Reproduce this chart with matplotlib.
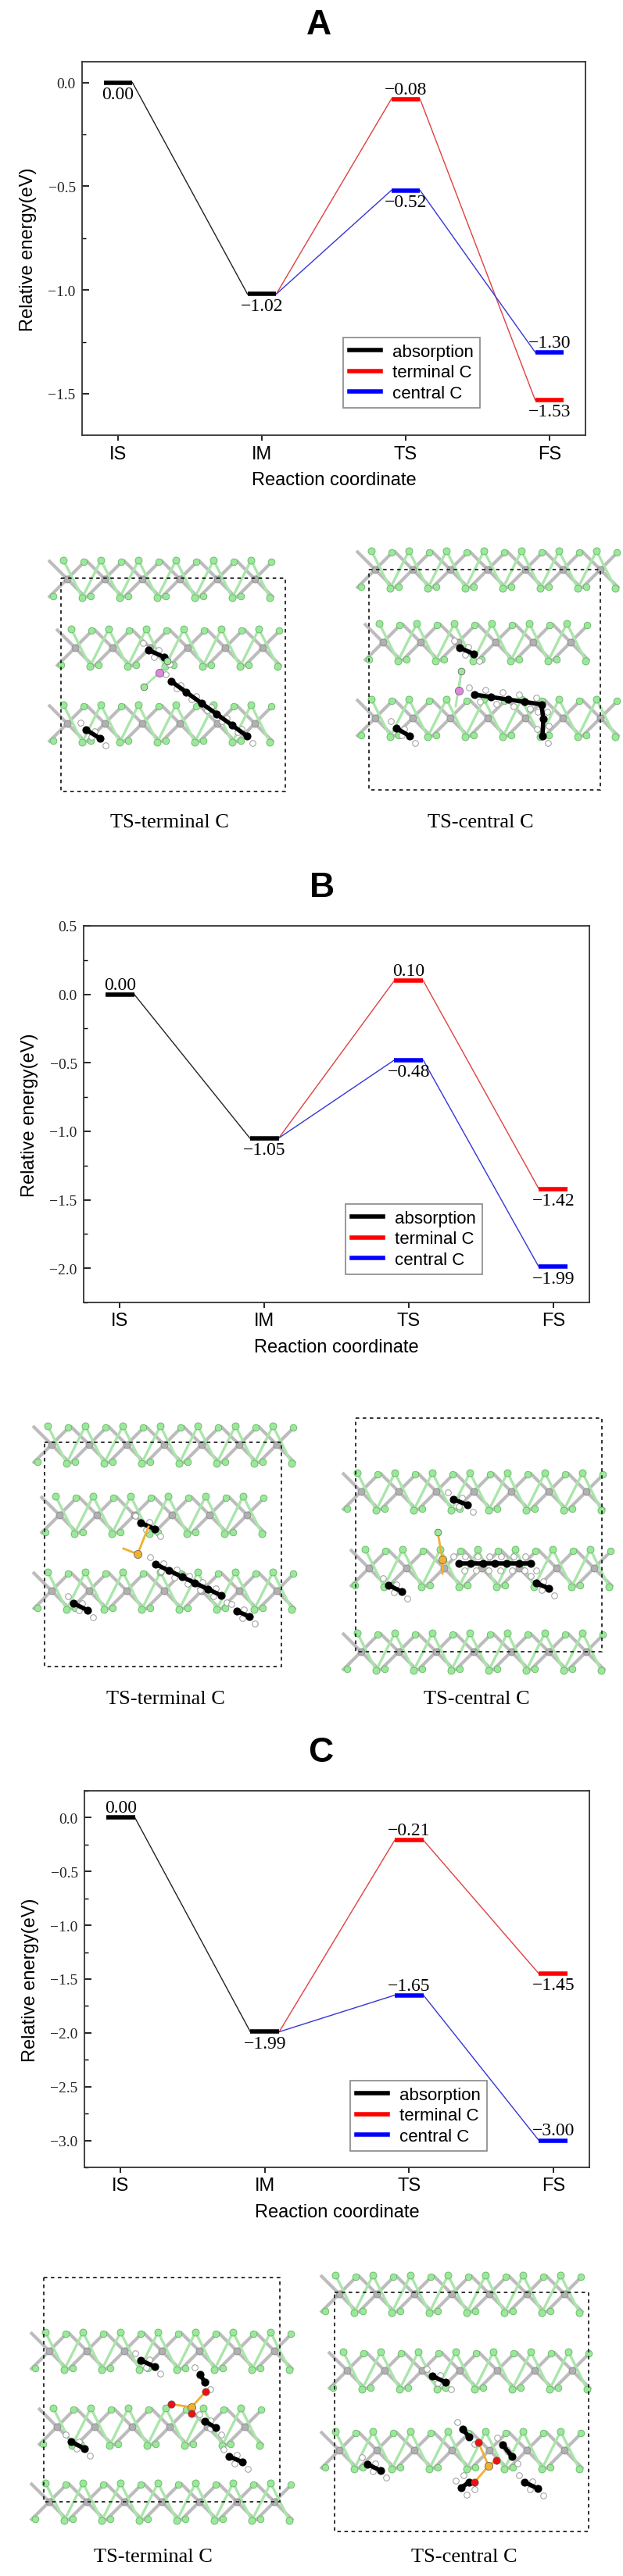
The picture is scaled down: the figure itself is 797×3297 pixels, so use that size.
import numpy as np
import matplotlib
matplotlib.use('Agg')
import matplotlib.pyplot as plt
from matplotlib.lines import Line2D
from matplotlib.patches import Rectangle
from matplotlib.collections import LineCollection
from matplotlib.ticker import FuncFormatter

W, H = 797, 3298

# ---- energy data (eV) ----
stages = ['IS', 'IM', 'TS', 'FS']
series_names = ['absorption', 'terminal C', 'central C']

A_absorption = [0.00, -1.02]          # IS, IM
A_terminal = [-1.02, -0.08, -1.53]    # IM, TS, FS
A_central = [-1.02, -0.52, -1.30]

B_absorption = [0.00, -1.05]
B_terminal = [-1.05, 0.10, -1.42]
B_central = [-1.05, -0.48, -1.99]

C_absorption = [0.00, -1.99]
C_terminal = [-1.99, -0.21, -1.45]
C_central = [-1.99, -1.65, -3.00]

# where the value label sits: IS, IM, TS-terminal, TS-central, FS-terminal, FS-central
A_label_side = ['below', 'below', 'above', 'below', 'below', 'above']
B_label_side = ['above', 'below', 'above', 'below', 'below', 'below']
C_label_side = ['above', 'below', 'above', 'above', 'below', 'above']

structure_titles = ['TS-terminal C', 'TS-central C']

SERIF = 'Liberation Serif'
SANS = 'Liberation Sans'

fig = plt.figure(figsize=(W / 100, H / 100), dpi=100)

ov = fig.add_axes([0, 0, 1, 1])
ov.set_xlim(0, W)
ov.set_ylim(H, 0)
ov.axis('off')


def px_rect(l, t, r, b):
    return [l / W, 1 - b / H, (r - l) / W, (b - t) / H]


def fmt(v, nd=2):
    s = '%.*f' % (nd, abs(v))
    return ('\u2212' + s) if v < -1e-9 else s


def energy_panel(rect, absorption, terminal, central, sides, ylim, legend_px):
    ax = fig.add_axes(px_rect(*rect))
    hw = 0.1
    colors = ['black', 'red', 'blue']
    paths = [([1, 2], absorption), ([2, 3, 4], terminal), ([2, 3, 4], central)]
    thin = ['#222222', '#e04040', '#3535d5']
    for (xs, es), c, tc in zip(paths, colors, thin):
        for i in range(len(xs) - 1):
            ax.plot([xs[i] + hw, xs[i + 1] - hw], [es[i], es[i + 1]], color=tc, lw=1.0, zorder=2)
        for x, e in zip(xs, es):
            if c != 'black' and x == 2:
                continue
            ax.plot([x - hw, x + hw], [e, e], color=c, lw=4, solid_capstyle='butt', zorder=3)
    levels = [(1, absorption[0]), (2, absorption[1]), (3, terminal[1]), (3, central[1]),
              (4, terminal[2]), (4, central[2])]
    for (x, e), side in zip(levels, sides):
        if side == 'above':
            ax.annotate(fmt(e), (x, e), xytext=(0, 1.5), textcoords='offset points',
                        ha='center', va='bottom', fontsize=17, family=SERIF)
        else:
            ax.annotate(fmt(e), (x, e), xytext=(0, -3), textcoords='offset points',
                        ha='center', va='top', fontsize=17, family=SERIF)
    ax.set_xlim(0.75, 4.25)
    ax.set_ylim(*ylim)
    ax.set_xticks([1, 2, 3, 4])
    ax.set_xticklabels(stages, family=SANS, fontsize=17)
    ax.set_yticks(np.arange(np.ceil(ylim[0] * 2) / 2, ylim[1] + 0.01, 0.5))
    ax.set_yticks(np.arange(np.ceil(ylim[0] * 4) / 4, ylim[1] + 0.01, 0.25), minor=True)
    ax.yaxis.set_major_formatter(FuncFormatter(lambda v, pos: fmt(v, 1)))
    for lab in ax.get_yticklabels():
        lab.set_family(SERIF)
        lab.set_fontsize(14)
    ax.tick_params(axis='y', which='major', direction='in', length=6.5, width=1.2, pad=6,
                   labelcolor='#222222')
    ax.tick_params(axis='y', which='minor', direction='in', length=3.5, width=1.0)
    ax.tick_params(axis='x', direction='out', length=5, width=1.2, pad=4)
    for s in ax.spines.values():
        s.set_linewidth(1.3)
        s.set_color('#333333')
    ax.set_xlabel('Reaction coordinate', family=SANS, fontsize=17, labelpad=8)
    ax.set_ylabel('Relative energy(eV)', family=SANS, fontsize=17, labelpad=10)
    handles = [Line2D([], [], color=c, lw=4) for c in colors]
    l, t, r, b = legend_px
    leg = ax.legend(handles, series_names, loc='upper left',
                    bbox_to_anchor=(l / W, 1 - t / H), bbox_transform=fig.transFigure,
                    prop={'family': SANS, 'size': 16}, fancybox=False, framealpha=1,
                    handlelength=1.8, handletextpad=0.7, borderpad=0.35, labelspacing=0.25,
                    borderaxespad=0)
    leg.get_frame().set_edgecolor('#888888')
    leg.get_frame().set_linewidth(1.2)
    return ax


energy_panel((105, 80, 749, 558), A_absorption, A_terminal, A_central, A_label_side,
             (-1.7, 0.1), (439, 433, 607, 517))
energy_panel((107, 1186, 754, 1668), B_absorption, B_terminal, B_central, B_label_side,
             (-2.25, 0.5), (442, 1542, 610, 1627))
energy_panel((108, 2293, 754, 2775), C_absorption, C_terminal, C_central, C_label_side,
             (-3.25, 0.25), (448, 2664, 617, 2749))

for lab, (x, y) in zip('ABC', [(408, 33), (412, 1137), (410, 2244)]):
    ov.text(x, y, lab, ha='center', va='center', fontsize=32, fontweight='bold', family=SANS)


# ---- schematic slab structures (illustration only) ----
S_FACE, S_EDGE = '#9be89b', '#62b462'


def layer(xa, xb, yc, p=48, h=24, shift=0.0):
    mo = np.arange(xa + shift, xb - 4, p)
    segs = []
    for x in mo:
        segs.append([(x - p / 2, yc - h), (x + p / 2, yc + h)])
        segs.append([(x - p / 2, yc + h), (x + p / 2, yc - h)])
    grey = LineCollection(segs, colors='#bcbcbc', linewidths=3.0, zorder=2)
    ov.add_collection(grey)
    dx = p * 0.4
    zx, zy = [], []
    for x in mo:
        zx += [x + dx - p / 2, x + dx]
        zy += [yc - h, yc + h]
    zx, zy = np.array(zx), np.array(zy)
    ov.plot(zx, zy, color='#a9e6a9', lw=2.4, zorder=3)
    ov.scatter(mo + p / 2 - 3, np.full(len(mo), yc - h + 2), s=38, color=S_FACE, edgecolors=S_EDGE, lw=0.6, zorder=4)
    ov.scatter(mo - p / 2 + 6, np.full(len(mo), yc + h - 2), s=38, color=S_FACE, edgecolors=S_EDGE, lw=0.6, zorder=4)
    ov.scatter(zx, zy, s=42, color=S_FACE, edgecolors=S_EDGE, lw=0.6, zorder=4)
    ov.scatter(mo, np.full(len(mo), yc), s=42, color='#b0b0b0', edgecolors='#8c8c8c', lw=0.6, zorder=4)


def carbon_chain(pts, n):
    pts = np.array(pts, dtype=float)
    seg = np.linspace(0, 1, n)
    d = np.r_[0, np.cumsum(np.hypot(*np.diff(pts, axis=0).T))]
    t = seg * d[-1]
    cx = np.interp(t, d, pts[:, 0])
    cy = np.interp(t, d, pts[:, 1])
    ov.plot(cx, cy, color='black', lw=4, zorder=6)
    hx = np.r_[cx - 7, cx + 7]
    hy = np.r_[cy - 9, cy + 9]
    ov.scatter(hx, hy, s=30, color='white', edgecolors='#999999', lw=0.7, zorder=5)
    ov.scatter(cx, cy, s=40, color='black', zorder=7)


def atom(x, y, c, s=55):
    ov.scatter([x], [y], s=s, color=c, edgecolors='#555555', lw=0.5, zorder=8)


structures = [
    # box (l, t, r, b), layer centres, layer x range
    dict(box=(78, 741, 365, 1014), layers=(742, 830, 927), xr=(68, 372), title_xy=(217, 1053)),
    dict(box=(472, 730, 768, 1012), layers=(730, 823, 920), xr=(462, 776), title_xy=(615, 1053)),
    dict(box=(57, 1847, 360, 2134), layers=(1850, 1940, 2037), xr=(48, 365), title_xy=(212, 2175)),
    dict(box=(455, 1816, 770, 2115), layers=(1910, 2008, 2115), xr=(444, 776), title_xy=(610, 2175)),
    dict(box=(56, 2916, 358, 3203), layers=(3010, 3107, 3203), xr=(45, 365), title_xy=(196, 3273)),
    dict(box=(428, 2935, 753, 3241), layers=(2937, 3035, 3137), xr=(416, 760), title_xy=(594, 3273)),
]

for i, st in enumerate(structures):
    l, t, r, b = st['box']
    for k, yc in enumerate(st['layers']):
        layer(st['xr'][0], st['xr'][1], yc, shift=18 + 10 * (k % 2))
    ov.add_patch(Rectangle((l, t), r - l, b - t, fill=False, ls=(0, (2.5, 2.5)), lw=1.3,
                           edgecolor='#222222', zorder=9))
    ov.text(st['title_xy'][0], st['title_xy'][1], structure_titles[i % 2], ha='center', va='center',
            fontsize=19, family=SERIF)

# adsorbates
carbon_chain([(219, 873), (316, 943)], 6)
carbon_chain([(190, 833), (210, 842)], 2)
carbon_chain([(110, 935), (128, 946)], 2)
ov.plot([184, 204, 214], [880, 862, 847], color='#a9e6a9', lw=2, zorder=7)
atom(184, 880, S_FACE, 40)
atom(214, 847, S_FACE, 40)
atom(204, 862, '#dd88e0')

carbon_chain([(607, 890), (696, 903), (694, 943)], 7)
carbon_chain([(588, 830), (606, 838)], 2)
carbon_chain([(507, 933), (524, 943)], 2)
ov.plot([587, 590, 583], [885, 860, 905], color='#a9e6a9', lw=2, zorder=7)
atom(590, 860, S_FACE, 40)
atom(587, 885, '#dd88e0')

carbon_chain([(199, 2003), (283, 2043)], 6)
carbon_chain([(180, 1950), (198, 1958)], 2)
carbon_chain([(94, 2053), (112, 2062)], 2)
carbon_chain([(303, 2063), (319, 2070)], 2)
ov.plot([158, 176, 190], [1983, 1990, 1955], color='#f0b030', lw=2, zorder=7)
atom(176, 1990, '#f0b030')

carbon_chain([(587, 2002), (679, 2002)], 7)
carbon_chain([(580, 1920), (598, 1927)], 2)
carbon_chain([(497, 2030), (514, 2038)], 2)
carbon_chain([(686, 2027), (702, 2034)], 2)
ov.plot([560, 566, 566], [1962, 1997, 2015], color='#f0b030', lw=2, zorder=7)
atom(560, 1962, S_FACE, 40)
atom(566, 1997, '#f0b030')

carbon_chain([(180, 3022), (198, 3030)], 2)
carbon_chain([(91, 3126), (108, 3135)], 2)
carbon_chain([(293, 3145), (310, 3152)], 2)
carbon_chain([(262, 3100), (276, 3108)], 2)
carbon_chain([(256, 3040), (262, 3050)], 2)
ov.plot([219, 245, 263], [3078, 3082, 3062], color='#f0b030', lw=2, zorder=7)
ov.plot([245, 245], [3082, 3090], color='#f0b030', lw=2, zorder=7)
atom(245, 3082, '#f0b030')
for ox, oy in [(219, 3078), (263, 3062), (245, 3090)]:
    atom(ox, oy, '#ee1111', 45)

carbon_chain([(553, 3042), (570, 3050)], 2)
carbon_chain([(470, 3155), (487, 3163)], 2)
carbon_chain([(671, 3178), (688, 3186)], 2)
carbon_chain([(643, 3130), (655, 3145)], 2)
carbon_chain([(592, 3110), (600, 3120)], 2)
carbon_chain([(590, 3185), (600, 3178)], 2)
ov.plot([612, 625, 607], [3127, 3157, 3178], color='#f0b030', lw=2, zorder=7)
ov.plot([625, 635], [3157, 3150], color='#f0b030', lw=2, zorder=7)
atom(625, 3157, '#f0b030')
for ox, oy in [(612, 3127), (635, 3150), (607, 3178)]:
    atom(ox, oy, '#ee1111', 45)

fig.savefig('out.png', dpi=100)
